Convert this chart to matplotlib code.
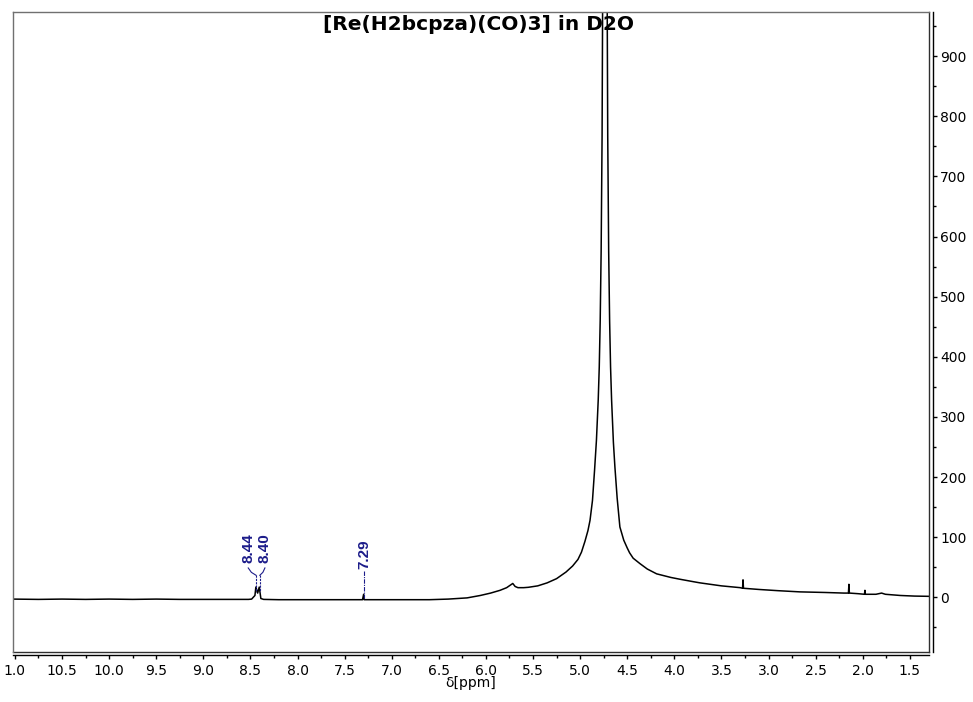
import matplotlib
matplotlib.use("Agg")
import matplotlib.pyplot as plt
from matplotlib.ticker import MultipleLocator, FixedLocator, FixedFormatter

# ---- data (ppm, intensity) ----
ppm = [11.02, 10.75, 10.5, 10.25, 10.0, 9.75, 9.5, 9.25, 9.0, 8.75, 8.6, 8.52,
       8.487, 8.452, 8.442, 8.423, 8.406, 8.389, 8.36, 8.2, 8.0, 7.8, 7.6, 7.4,
       7.31, 7.298, 7.293, 7.285, 7.2, 7.0, 6.8, 6.6, 6.4, 6.2, 6.06, 5.95,
       5.85, 5.78, 5.715, 5.69, 5.66, 5.60, 5.55, 5.45, 5.35, 5.25, 5.15, 5.08,
       5.023, 4.986, 4.949, 4.917, 4.895, 4.869, 4.847, 4.827, 4.808, 4.797,
       4.787, 4.777, 4.767, 4.757, 4.747, 4.737, 4.727, 4.717, 4.707, 4.697,
       4.687, 4.677, 4.666, 4.647, 4.631, 4.607, 4.578, 4.537, 4.50, 4.475,
       4.437, 4.365, 4.287, 4.188, 4.037, 3.94, 3.80, 3.728, 3.5, 3.30, 3.276,
       3.271, 3.266, 3.10, 2.9, 2.667, 2.4, 2.2, 2.152, 2.147, 2.142, 2.05,
       1.982, 1.977, 1.972, 1.86, 1.80, 1.76, 1.6, 1.45, 1.30]
intensity = [-3, -3.5, -3, -3.5, -3, -3.5, -3, -3.5, -3.5, -3.5, -3.5, -3.5,
             -3, 3, 17, 7, 17, -2, -3.5, -4, -4, -4, -4, -4,
             -4, 5, -4, -4, -4, -4, -4, -4, -3, -1, 3, 7,
             11.6, 16, 23, 18, 16, 16, 16.6, 19, 24, 31, 42, 52,
             63, 75, 93, 111, 128, 161, 211, 261, 328, 383,
             460, 575, 767, 1150, 2300, 3000, 2300, 1150, 767, 575,
             460, 383, 328, 258, 217, 165, 117, 95, 82, 74,
             65, 56, 47, 39, 33, 30, 26, 24, 19, 16, 15,
             29, 15, 13, 11, 9, 8, 7, 7, 21.6, 7, 6,
             5, 11.6, 5, 5, 7, 5, 3, 2, 1.6]

peak_ppm = [8.44, 8.40, 7.29]
peak_labels = ["8.44", "8.40", "7.29"]

x_ticks = [11.0, 10.5, 10.0, 9.5, 9.0, 8.5, 8.0, 7.5, 7.0, 6.5, 6.0, 5.5,
           5.0, 4.5, 4.0, 3.5, 3.0, 2.5, 2.0, 1.5]
x_tick_labels = ["1.0", "10.5", "10.0", "9.5", "9.0", "8.5", "8.0", "7.5",
                 "7.0", "6.5", "6.0", "5.5", "5.0", "4.5", "4.0", "3.5",
                 "3.0", "2.5", "2.0", "1.5"]
y_ticks = [0, 100, 200, 300, 400, 500, 600, 700, 800, 900]

title = "[Re(H2bcpza)(CO)3] in D2O"

# ---- figure ----
W, H = 973, 702
fig = plt.figure(figsize=(W / 100, H / 100), dpi=100)
left, right, top, bottom = 13, 928.7, 12.3, 652
ax = fig.add_axes([left / W, 1 - bottom / H, (right - left) / W, (bottom - top) / H])

ax.plot(ppm, intensity, color="black", lw=1.1)
ax.set_xlim(11.02, 1.30)
ax.set_ylim(-91, 973)

# spines: top/left gray frame, bottom/right detached axes
for s in ["top", "left"]:
    ax.spines[s].set_color("#707070")
    ax.spines[s].set_linewidth(1.0)
ax.spines["bottom"].set_position(("outward", 2.5))
ax.spines["right"].set_position(("outward", 3.3))
ax.spines["bottom"].set_linewidth(1.0)
ax.spines["right"].set_linewidth(1.0)
# inner frame lines at bottom and right edges
ax.plot([0, 1], [0, 0], transform=ax.transAxes, color="#303030", lw=1.0, clip_on=False)
ax.plot([1, 1], [0, 1], transform=ax.transAxes, color="#303030", lw=1.0, clip_on=False)

ax.xaxis.set_major_locator(FixedLocator(x_ticks))
ax.xaxis.set_major_formatter(FixedFormatter(x_tick_labels))
ax.xaxis.set_minor_locator(MultipleLocator(0.25))
ax.yaxis.tick_right()
ax.yaxis.set_major_locator(FixedLocator(y_ticks))
ax.yaxis.set_minor_locator(MultipleLocator(50))
ax.tick_params(axis="x", which="major", length=3, width=1, pad=3, labelsize=10)
ax.tick_params(axis="x", which="minor", length=1.8, width=1)
ax.tick_params(axis="y", which="major", length=3, width=1, pad=2, labelsize=10)
ax.tick_params(axis="y", which="minor", length=1.8, width=1)
ax.set_xlabel("δ[ppm]", fontsize=10, labelpad=-1)

ax.text(0.508, 0.9817, title, transform=ax.transAxes, ha="center", va="center",
        fontsize=14.5, fontweight="bold", family="DejaVu Sans")

# peak annotations
navy = "#1c1c8a"
text_dx = [0.083, -0.054, 0.0]
text_y = 81.5
for p, lab, dx in zip(peak_ppm, peak_labels, text_dx):
    tx = p + dx
    ty = text_y if dx != 0 else 71.5
    ax.text(tx, ty, lab, rotation=90, ha="center", va="center", color=navy,
            fontsize=11, fontweight="bold", family="Liberation Sans")
    if dx != 0:
        ax.plot([tx, tx - dx * 0.4, p], [48.8, 41.5, 36.6], color=navy, lw=0.8)
        ax.plot([p, p], [36.6, 9], color=navy, lw=0.8, ls=(0, (2, 1)))
    else:
        ax.plot([p, p], [43.8, -2], color=navy, lw=0.8, ls=(0, (4, 1, 1, 1)))

fig.savefig("out.png", dpi=100)
